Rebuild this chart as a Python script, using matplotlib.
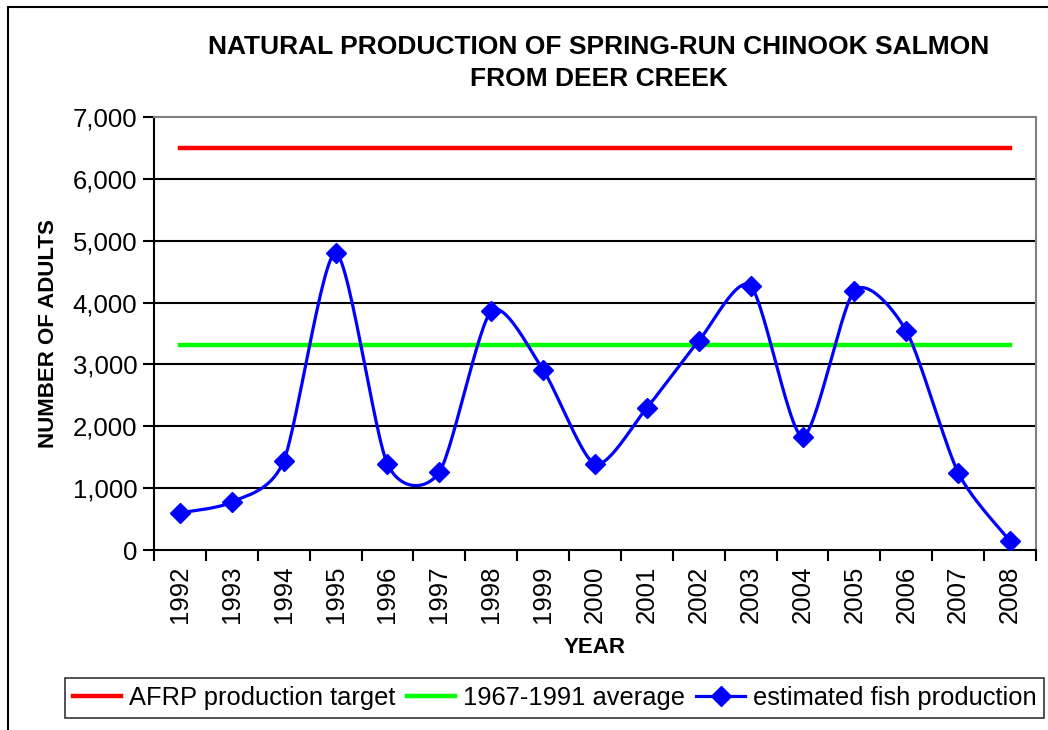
import numpy as np
import matplotlib
matplotlib.use("Agg")
import matplotlib.pyplot as plt
from matplotlib.lines import Line2D
from matplotlib.patches import Rectangle

plt.rcParams['font.family'] = ['Liberation Sans', 'DejaVu Sans']

years = [str(y) for y in range(1992, 2009)]
fish = [600, 775, 1440, 4800, 1390, 1260, 3860, 2910, 1390, 2300,
        3380, 4270, 1830, 4190, 3540, 1250, 145]
afrp_target = 6500
average_67_91 = 3315


def smooth(xs, ys, yscale, n=30, k=8.0):
    # Bezier curve through the points (Excel-style smoothed line)
    p = np.column_stack([xs, np.asarray(ys, float) * yscale])
    p = np.vstack([p[0], p, p[-1]])
    out = []
    for i in range(1, len(p) - 2):
        p0, p1, p2, p3 = p[i - 1], p[i], p[i + 1], p[i + 2]
        b1 = p1 + (p2 - p0) / k
        b2 = p2 - (p3 - p1) / k
        t = np.linspace(0, 1, n)[:, None]
        seg = ((1 - t) ** 3 * p1 + 3 * (1 - t) ** 2 * t * b1
               + 3 * (1 - t) * t ** 2 * b2 + t ** 3 * p2)
        out.append(seg if i == 1 else seg[1:])
    c = np.vstack(out)
    return c[:, 0], c[:, 1] / yscale


fig = plt.figure(figsize=(10.48, 7.30), dpi=100)
ax = fig.add_axes([154 / 1048, 1 - 550 / 730, 882 / 1048, 433 / 730])

x = np.arange(len(years))
ax.set_xlim(-0.5, len(years) - 0.5)
ax.set_ylim(0, 7000)

for v in range(1000, 7000, 1000):
    ax.axhline(v, color='black', lw=1.5, zorder=1)

ax.plot([x[0], x[-1]], [afrp_target] * 2, color='#ff0000', lw=3.2, zorder=2)
ax.plot([x[0], x[-1]], [average_67_91] * 2, color='#00ff00', lw=3.2, zorder=2)

sx, sy = smooth(x, fish, 61.86 / 51.8 / 1000)
ax.plot(sx, sy, color='#0000ff', lw=2.3, zorder=3)
ax.plot(x, fish, ls='none', marker='D', ms=10, color='#0000ff', zorder=4)

ax.set_yticks(range(0, 7001, 1000))
ax.set_yticklabels([f'{v:,}' for v in range(0, 7001, 1000)], fontsize=18.5)
ax.set_xticks(x)
ax.set_xticklabels(years, rotation=90, fontsize=18.5)
ax.set_xticks(np.arange(-0.5, len(years)), minor=True)
ax.tick_params(axis='x', which='major', length=0, pad=11)
ax.tick_params(axis='x', which='minor', length=8, width=1.5, color='black')
ax.tick_params(axis='y', length=8, width=1.5, pad=4)

for s in ['left', 'bottom']:
    ax.spines[s].set_linewidth(1.5)
for s in ['top', 'right']:
    ax.spines[s].set_color('#808080')
    ax.spines[s].set_linewidth(1.5)

ax.set_ylabel('NUMBER OF ADULTS', fontsize=16, fontweight='bold', labelpad=10)
ax.set_xlabel('YEAR', fontsize=16, fontweight='bold', labelpad=10)

fig.text(599 / 1048, 1 - 47 / 730, 'NATURAL PRODUCTION OF SPRING-RUN CHINOOK SALMON',
         ha='center', va='center', fontsize=19, fontweight='bold')
fig.text(599 / 1048, 1 - 79 / 730, 'FROM DEER CREEK',
         ha='center', va='center', fontsize=19, fontweight='bold')

fig.patches.append(Rectangle((8 / 1048, -0.1), 1.2, 1 - 7 / 730 + 0.1,
                             transform=fig.transFigure, fill=False,
                             edgecolor='black', lw=1.5))

handles = [
    Line2D([], [], color='#ff0000', lw=3.2),
    Line2D([], [], color='#00ff00', lw=3.2),
    Line2D([], [], color='#0000ff', lw=2.3, marker='D', ms=10),
]
labels = ['AFRP production target', '1967-1991 average', 'estimated fish production']
leg = fig.legend(handles, labels, ncol=3, loc='center left',
                 bbox_to_anchor=(65 / 1048, 1 - 698 / 730), fontsize=18.4,
                 frameon=True, fancybox=False, edgecolor='black',
                 handlelength=1.9, handletextpad=0.3, columnspacing=0.45,
                 borderpad=0.3, borderaxespad=0)
leg.get_frame().set_linewidth(1.2)

fig.savefig('out.png', dpi=100)
